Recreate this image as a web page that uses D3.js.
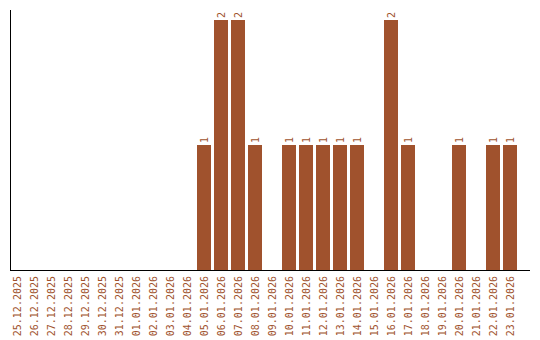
<!DOCTYPE html>
<html>
<head>
<meta charset="utf-8">
<script src="https://cdn.jsdelivr.net/npm/d3@7"></script>
<style>
html,body{margin:0;padding:0;background:#fff;}
svg{display:block;}
</style>
</head>
<body>
<svg id="chart" width="540" height="340"></svg>
<script>
const categories = ["25.12.2025","26.12.2025","27.12.2025","28.12.2025","29.12.2025","30.12.2025","31.12.2025","01.01.2026","02.01.2026","03.01.2026","04.01.2026","05.01.2026","06.01.2026","07.01.2026","08.01.2026","09.01.2026","10.01.2026","11.01.2026","12.01.2026","13.01.2026","14.01.2026","15.01.2026","16.01.2026","17.01.2026","18.01.2026","19.01.2026","20.01.2026","21.01.2026","22.01.2026","23.01.2026"];
const values = [0,0,0,0,0,0,0,0,0,0,0,1,2,2,1,0,1,1,1,1,1,0,2,1,0,0,1,0,1,1];

const color = "#a0522d";
const font = "'DejaVu Sans Mono', monospace";
const svg = d3.select("#chart");

const x = d3.scaleBand().domain(categories).range([10, 517]).paddingInner(3/17).paddingOuter(0);
const y = d3.scaleLinear().domain([0, 2]).range([270, 20]);

const data = categories.map((c, i) => ({c, v: values[i]}));

svg.selectAll("rect.bar").data(data.filter(d => d.v > 0)).join("rect")
  .attr("class", "bar")
  .attr("x", d => x(d.c))
  .attr("y", d => y(d.v))
  .attr("width", x.bandwidth())
  .attr("height", d => y(0) - y(d.v))
  .attr("fill", color);

svg.selectAll("text.val").data(data.filter(d => d.v > 0)).join("text")
  .attr("class", "val")
  .attr("transform", d => `translate(${x(d.c) + x.bandwidth()/2},${y(d.v) - 2}) rotate(-90)`)
  .attr("dy", "0.35em")
  .attr("text-anchor", "start")
  .attr("font-family", font)
  .attr("font-size", 10)
  .attr("fill", color)
  .text(d => d.v);

// axes
svg.append("line").attr("x1", 10.5).attr("x2", 10.5).attr("y1", 10).attr("y2", 270)
  .attr("stroke", "#000").attr("stroke-width", 1);
svg.append("line").attr("x1", 10).attr("x2", 530).attr("y1", 270.5).attr("y2", 270.5)
  .attr("stroke", "#000").attr("stroke-width", 1);

svg.selectAll("text.tick").data(categories).join("text")
  .attr("class", "tick")
  .attr("transform", d => `translate(${x(d) + x.bandwidth()/2},276) rotate(-90)`)
  .attr("dy", "0.35em")
  .attr("text-anchor", "end")
  .attr("font-family", font)
  .attr("font-size", 10)
  .attr("fill", color)
  .text(d => d);
</script>
</body>
</html>
